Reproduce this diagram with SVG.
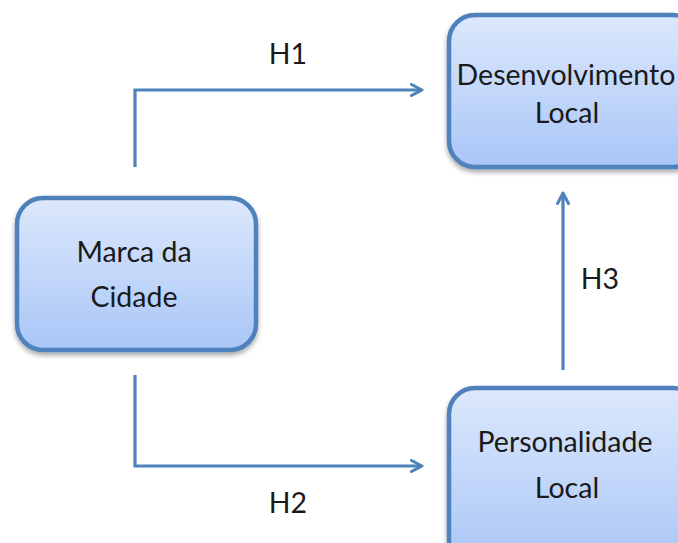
<svg xmlns="http://www.w3.org/2000/svg" width="678" height="543" viewBox="0 0 678 543">
<defs>
<linearGradient id="g" x1="0" y1="0" x2="0" y2="1">
<stop offset="0" stop-color="#dce8fc"/>
<stop offset="1" stop-color="#a9c6f7"/>
</linearGradient>
<filter id="sh" x="-10%" y="-10%" width="120%" height="125%">
<feGaussianBlur in="SourceAlpha" stdDeviation="2.5"/>
<feOffset dx="0" dy="3" result="b"/>
<feComponentTransfer><feFuncA type="linear" slope="0.35"/></feComponentTransfer>
<feMerge><feMergeNode/><feMergeNode in="SourceGraphic"/></feMerge>
</filter>
<marker id="ah" markerWidth="14" markerHeight="14" refX="11" refY="7" orient="auto" markerUnits="userSpaceOnUse" viewBox="0 0 14 14">
<path d="M1.5,1.5 L12,7 L1.5,12.5" fill="none" stroke="#4f81bd" stroke-width="3" stroke-linecap="round" stroke-linejoin="round"/>
</marker>
</defs>
<style>
.box{fill:url(#g);stroke:#4f81bd;stroke-width:4.5;filter:url(#sh)}
.t{font-family:Lato,"Open Sans",sans-serif;font-size:28.5px;fill:#1a1a1a;text-anchor:middle}
.c{fill:none;stroke:#4f81bd;stroke-width:3.2;marker-end:url(#ah)}
</style>
<g id="connectors">
<path class="c" d="M135,167 V90 H421"/>
<path class="c" d="M135,375 V466 H421"/>
<path class="c" d="M563,370 V194"/>
<text class="t" x="288" y="64">H1</text>
<text class="t" x="288" y="513">H2</text>
<text class="t" x="600" y="289">H3</text>
</g>
<g id="desenvolvimento">
<rect class="box" x="449" y="15" width="250" height="152" rx="26"/>
<text class="t" x="566" y="85">Desenvolvimento</text>
<text class="t" x="567" y="123">Local</text>
</g>
<g id="marca">
<rect class="box" x="17" y="198" width="239" height="152" rx="26"/>
<text class="t" x="134" y="262">Marca da</text>
<text class="t" x="134" y="307">Cidade</text>
</g>
<g id="personalidade">
<rect class="box" x="449" y="388" width="250" height="180" rx="26"/>
<text class="t" x="565" y="452">Personalidade</text>
<text class="t" x="567" y="498">Local</text>
</g>
</svg>
